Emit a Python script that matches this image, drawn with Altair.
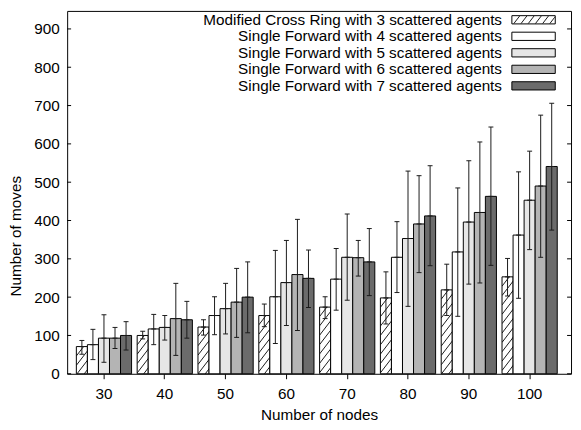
import base64
import altair as alt
import pandas as pd

nodes = [30, 40, 50, 60, 70, 80, 90, 100]
series = [
    "Modified Cross Ring with 3 scattered agents",
    "Single Forward with 4 scattered agents",
    "Single Forward with 5 scattered agents",
    "Single Forward with 6 scattered agents",
    "Single Forward with 7 scattered agents",
]
mean_vals = [
    [71, 100, 122, 152, 174, 198, 219, 253],
    [76, 117, 152, 201, 247, 304, 318, 362],
    [93, 121, 170, 238, 304, 353, 396, 453],
    [93, 144, 187, 259, 303, 391, 421, 490],
    [100, 141, 200, 249, 292, 412, 463, 541],
]
low_vals = [
    [51, 91, 101, 123, 144, 130, 152, 203],
    [37, 76, 102, 79, 166, 212, 150, 197],
    [30, 88, 104, 126, 192, 176, 234, 324],
    [66, 48, 95, 113, 255, 264, 237, 304],
    [62, 93, 107, 173, 204, 282, 283, 375],
]
high_vals = [
    [87, 111, 141, 182, 201, 266, 286, 301],
    [116, 155, 201, 322, 327, 397, 485, 527],
    [154, 152, 236, 348, 417, 529, 556, 581],
    [121, 236, 275, 403, 348, 517, 605, 675],
    [136, 189, 292, 323, 379, 543, 644, 706],
]
bar_colors = ["#ffffff", "#ffffff", "#e6e6e6", "#b4b4b4", "#6b6b6b"]
y_ticks = [0, 100, 200, 300, 400, 500, 600, 700, 800, 900]

rows = []
for s, m, lo, hi in zip(series, mean_vals, low_vals, high_vals):
    for n, mv, lv, hv in zip(nodes, m, lo, hi):
        rows.append({"nodes": n, "series": s, "mean": mv, "lo": lv, "hi": hv})
df = pd.DataFrame(rows)
legend_df = pd.DataFrame({"series": series})
tick_df = pd.DataFrame({"v": y_ticks})

# diagonal hatch image (style only)
paths = []
y0 = 0.0
while y0 < 600:
    paths.append(f'<path d="M0,{y0:.1f} L60,{y0 - 78:.1f}"/>')
    y0 += 9.5
svg = ('<svg xmlns="http://www.w3.org/2000/svg"><g stroke="black" stroke-width="0.9" fill="none">'
       + "".join(paths) + "</g></svg>")
hatch_url = "data:image/svg+xml;base64," + base64.b64encode(svg.encode()).decode()

W, H = 511, 368
FONT = "Liberation Sans"
FS = 15.5

yscale = alt.Scale(domain=[0, 947], nice=False, zero=True)
yaxis = alt.Axis(values=y_ticks, ticks=False, domain=False, grid=False,
                 labelPadding=8, titleY=228, titleX=-44)
x_enc = alt.X("nodes:N", sort=nodes,
              scale=alt.Scale(paddingInner=0.092, paddingOuter=0.189, align=0.4),
              axis=alt.Axis(title="Number of nodes", labelAngle=0, tickSize=5,
                            domain=False, labelPadding=8, titlePadding=6))
xo_enc = alt.XOffset("series:N", scale=alt.Scale(domain=series, paddingInner=0, paddingOuter=0))

def Y(field):
    return alt.Y(field, scale=yscale, title="Number of moves", axis=yaxis)

base = alt.Chart(df)

bars = base.mark_bar(stroke="black", strokeWidth=1, opacity=1).encode(
    x=x_enc, xOffset=xo_enc, y=Y("mean:Q"), y2=alt.datum(0),
    fill=alt.Fill("series:N", scale=alt.Scale(domain=series, range=bar_colors), legend=None),
)
hatch = base.transform_filter(alt.datum.series == series[0]).mark_image(
    url=hatch_url, aspect=False).encode(
    x=x_enc, xOffset=xo_enc, y=Y("mean:Q"), y2=alt.datum(0))
err = base.mark_rule(color="#1a1a1a", strokeWidth=1).encode(
    x=x_enc, xOffset=xo_enc, y=Y("lo:Q"), y2="hi:Q")
cap_hi = base.mark_tick(color="#1a1a1a", size=5, thickness=1, orient="horizontal", opacity=1).encode(
    x=x_enc, xOffset=xo_enc, y=Y("hi:Q"))
cap_lo = base.mark_tick(color="#1a1a1a", size=5, thickness=1, orient="horizontal", opacity=1).encode(
    x=x_enc, xOffset=xo_enc, y=Y("lo:Q"))
cap_m = base.mark_tick(color="#1a1a1a", size=5, thickness=1, orient="horizontal", opacity=1).encode(
    x=x_enc, xOffset=xo_enc, y=Y("mean:Q"))

ticks_l = alt.Chart(tick_df).mark_rule(color="black").encode(
    y=Y("v:Q"), x=alt.value(0), x2=alt.value(4))
ticks_r = alt.Chart(tick_df).mark_rule(color="black").encode(
    y=Y("v:Q"), x=alt.value(W - 4), x2=alt.value(W))

main = alt.layer(bars, hatch, err, cap_hi, cap_lo, cap_m, ticks_l, ticks_r)

ly = alt.Y("series:N", scale=alt.Scale(type="point", domain=series, range=[9, 76], padding=0), axis=None)
leg_text = alt.Chart(legend_df).mark_text(align="right", baseline="middle", font=FONT,
                                          fontSize=FS, color="black").encode(
    x=alt.value(441), y=ly, text="series:N")
leg_sw = alt.Chart(legend_df).mark_point(
    shape="M-1,-0.19H1V0.19H-1Z", size=1936, filled=True, stroke="black",
    strokeWidth=1, opacity=1).encode(
    x=alt.value(473), y=ly,
    fill=alt.Fill("series:N", scale=alt.Scale(domain=series, range=bar_colors), legend=None))
leg_hatch = alt.Chart(legend_df).transform_filter(alt.datum.series == series[0]).mark_image(
    url=hatch_url, aspect=False, width=43, height=7.5).encode(x=alt.value(473), y=ly)
legend = alt.layer(leg_sw, leg_hatch, leg_text)

chart = alt.layer(main, legend).resolve_scale(y="independent").properties(
    width=W, height=H,
    padding={"left": 60, "top": 0, "right": 2, "bottom": 50},
    autosize="none",
).configure_view(stroke="black", strokeWidth=1).configure_axis(
    labelFont=FONT, labelFontSize=FS, titleFont=FONT, titleFontSize=FS,
    labelColor="black", titleColor="black", tickColor="black",
    titleFontWeight="normal", domainColor="black",
)

chart.save("out.html", embed_options={"renderer": "svg", "actions": False})
